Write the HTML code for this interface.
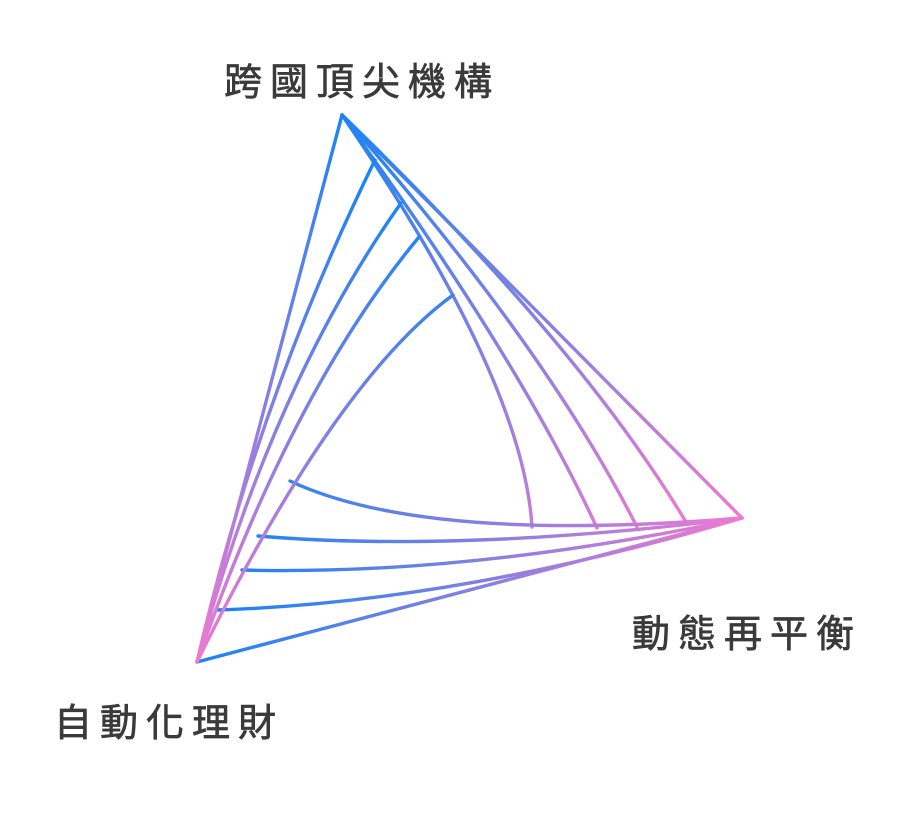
<!DOCTYPE html>
<html><head><meta charset="utf-8"><style>
html,body{margin:0;padding:0;background:#fff;}
svg{display:block}
text{font-family:"Liberation Sans","Noto Sans CJK TC",sans-serif;font-size:38px;fill:#3a3a3a;letter-spacing:8px;stroke:#3a3a3a;stroke-width:0.7px}
</style></head><body>
<svg width="900" height="813" viewBox="0 0 900 813" xmlns="http://www.w3.org/2000/svg">
<defs>
<linearGradient id="gA" gradientUnits="userSpaceOnUse" x1="342" y1="115" x2="700" y2="525"><stop offset="0" stop-color="#1a84f5"/><stop offset="1" stop-color="#f07ad0"/></linearGradient>
<linearGradient id="gB" gradientUnits="userSpaceOnUse" x1="742" y1="518" x2="230" y2="560"><stop offset="0" stop-color="#f07ad0"/><stop offset="1" stop-color="#1a84f5"/></linearGradient>
<linearGradient id="gC" gradientUnits="userSpaceOnUse" x1="197" y1="662" x2="400" y2="200"><stop offset="0" stop-color="#f07ad0"/><stop offset="1" stop-color="#1a84f5"/></linearGradient>
<linearGradient id="gBC" gradientUnits="userSpaceOnUse" x1="742" y1="518" x2="197" y2="662"><stop offset="0" stop-color="#f07ad0"/><stop offset="1" stop-color="#1a84f5"/></linearGradient>
<linearGradient id="gCA" gradientUnits="userSpaceOnUse" x1="197" y1="662" x2="342" y2="115"><stop offset="0" stop-color="#f07ad0"/><stop offset="1" stop-color="#1a84f5"/></linearGradient>
<linearGradient id="gAB" gradientUnits="userSpaceOnUse" x1="342" y1="115" x2="742" y2="518"><stop offset="0" stop-color="#1a84f5"/><stop offset="1" stop-color="#f07ad0"/></linearGradient>
</defs>
<g fill="none" stroke-width="3.4" stroke-linecap="round">
<path d="M342 115 L742 518" stroke="url(#gAB)"/>
<path d="M742 518 L197 662" stroke="url(#gBC)"/>
<path d="M197 662 L342 115" stroke="url(#gCA)"/>
<path d="M342 115 Q580 345 686 522" stroke="url(#gA)"/>
<path d="M342 115 Q545 345 637 527" stroke="url(#gA)"/>
<path d="M342 115 Q520 360 597 528" stroke="url(#gA)"/>
<path d="M342 115 Q523 379 532 527" stroke="url(#gA)"/>
<path d="M742 518 Q424 544 290 481" stroke="url(#gB)"/>
<path d="M742 518 Q460 553 258 536" stroke="url(#gB)"/>
<path d="M742 518 Q468 576 242 570" stroke="url(#gB)"/>
<path d="M742 518 Q460 602 218 610" stroke="url(#gB)"/>
<path d="M197 662 Q335 381 453 295" stroke="url(#gC)"/>
<path d="M197 662 Q292 390 419 237" stroke="url(#gC)"/>
<path d="M197 662 Q271 387 401 203" stroke="url(#gC)"/>
<path d="M197 662 Q258 399 375 160" stroke="url(#gC)"/>
</g>
<text x="224" y="95">跨國頂尖機構</text>
<text x="632" y="647">動態再平衡</text>
<text x="54" y="736">自動化理財</text>
</svg>
</body></html>
